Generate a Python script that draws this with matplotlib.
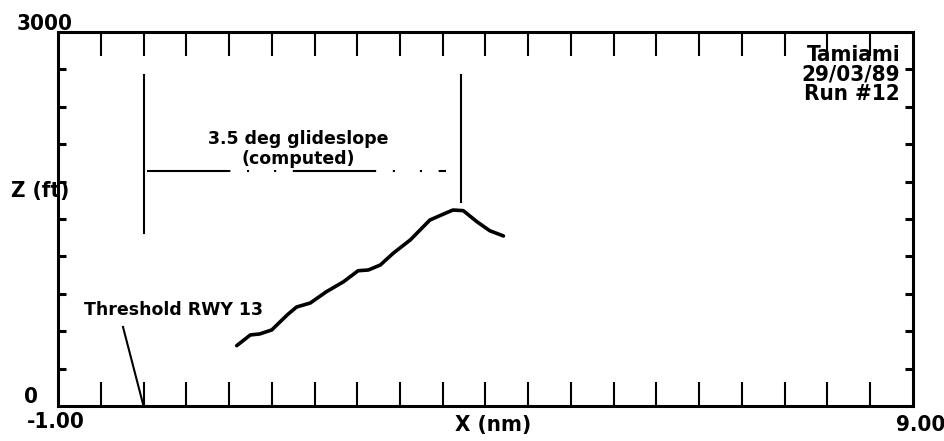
import matplotlib.pyplot as plt

# measured altitude profile, run 12
x_nm = [1.09, 1.25, 1.36, 1.50, 1.68, 1.79, 1.95, 2.14, 2.34, 2.51, 2.63, 2.77,
        2.92, 3.12, 3.35, 3.53, 3.62, 3.74, 3.90, 4.05, 4.21]
z_ft = [484, 570, 578, 610, 730, 794, 826, 917, 997, 1085, 1091, 1131,
        1225, 1332, 1492, 1546, 1572, 1567, 1478, 1406, 1364]

# computed 3.5 deg glideslope bracket
gs_left_x = 0.0
gs_right_x = 3.71
gs_level = 1885
gs_top = 2655
gs_left_bottom = 1388
gs_right_bottom = 1636

threshold_x = 0.0
xmin, xmax = -1.0, 9.0
ymin, ymax = 0, 3000

narrow = dict(family='DejaVu Sans', fontstretch='condensed', fontweight='bold',
              fontsize=16)
small = dict(family='DejaVu Sans', fontweight='bold', fontsize=12.5)

fig = plt.figure(figsize=(9.45, 4.41), dpi=100)
ax = fig.add_axes([0.0614, 0.0794, 0.9047, 0.8480])
ax.set_xlim(xmin, xmax)
ax.set_ylim(ymin, ymax)

ax.plot(x_nm, z_ft, color='black', lw=2.6, solid_capstyle='round',
        solid_joinstyle='round')

ax.plot([gs_left_x, gs_left_x], [gs_left_bottom, gs_top], color='black', lw=1.5)
ax.plot([gs_right_x, gs_right_x], [gs_right_bottom, gs_top], color='black', lw=1.5)
ax.plot([gs_left_x + 0.04, gs_right_x - 0.17], [gs_level, gs_level],
        color='black', lw=1.5, dashes=(40, 8, 1, 12, 1, 8))
ax.text(1.81, 2140, '3.5 deg glideslope', ha='center', va='center', **small)
ax.text(1.81, 1985, '(computed)', ha='center', va='center', **small)

ax.text(-0.70, 770, 'Threshold RWY 13', ha='left', va='center', **small)
ax.plot([-0.24, threshold_x], [634, 0], color='black', lw=1.5)

ax.text(0.985, 0.965, 'Tamiami\n29/03/89\nRun #12', transform=ax.transAxes,
        ha='right', va='top', linespacing=0.95, **narrow)

for side in ax.spines.values():
    side.set_linewidth(2.2)

ax.set_xticks([-0.5 + 0.5 * i for i in range(19)])
ax.set_yticks([300 * i for i in range(1, 10)])
ax.tick_params(axis='x', direction='in', length=17, width=1.5,
               top=True, bottom=True, labelbottom=False)
ax.tick_params(axis='y', direction='in', length=6, width=2.2,
               left=True, right=True, labelleft=False)

fig.text(0.077, 0.945, '3000', ha='right', va='center', **narrow)
fig.text(0.040, 0.100, '0', ha='right', va='center', **narrow)
fig.text(0.028, 0.043, '-1.00', ha='left', va='center', **narrow)
fig.text(1.0, 0.036, '9.00', ha='right', va='center', **narrow)
fig.text(0.522, 0.036, 'X (nm)', ha='center', va='center', **narrow)
fig.text(0.012, 0.568, 'Z (ft)', ha='left', va='center', **narrow)

fig.savefig('out.png', dpi=100)
